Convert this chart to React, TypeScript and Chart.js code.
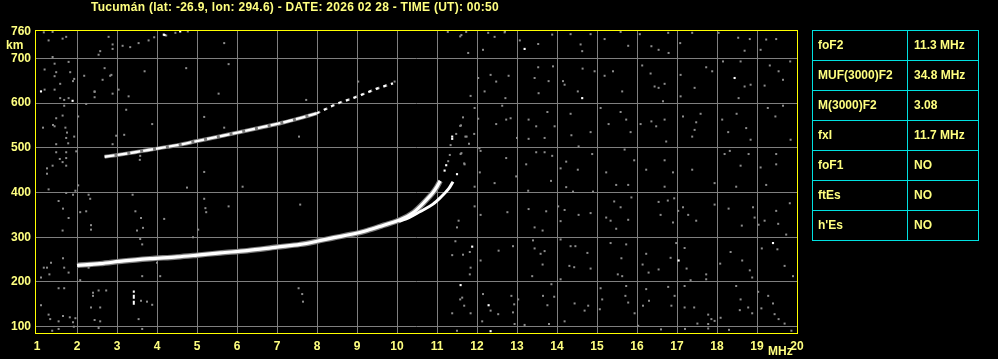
import React, { useEffect, useRef } from 'react';
import { Chart, registerables } from 'chart.js';

Chart.register(...registerables);

const titleText = 'Tucumán (lat: -26.9, lon: 294.6) - DATE: 2026 02 28 - TIME (UT): 00:50';
const xTicks = [1, 2, 3, 4, 5, 6, 7, 8, 9, 10, 11, 12, 13, 14, 15, 16, 17, 18, 19, 20];
const yTicks = [100, 200, 300, 400, 500, 600, 700, 760];
const xUnit = 'MHz';
const yUnit = 'km';

const tableNames = ['foF2', 'MUF(3000)F2', 'M(3000)F2', 'fxI', 'foF1', 'ftEs', "h'Es"];
const tableValues = ['11.3 MHz', '34.8 MHz', '3.08', '11.7 MHz', 'NO', 'NO', 'NO'];

// F2 ordinary trace (MHz, km)
const oTraceF = [2.0, 2.58, 3.17, 3.83, 4.5, 5.0, 5.58, 6.25, 7.0, 7.58, 8.0, 8.42, 8.83, 9.25, 9.67, 10.08, 10.42, 10.7, 10.9, 11.0, 11.08];
const oTraceH = [237, 241, 247, 252, 256, 260, 265, 270, 278, 284, 291, 299, 306, 315, 327, 339, 356, 380, 400, 413, 426];

// F2 extraordinary trace
const xTraceF = [10.05, 10.3, 10.57, 10.9, 11.1, 11.23, 11.32, 11.4];
const xTraceH = [336, 344, 357, 374, 390, 402, 412, 424];

// second-hop trace (strong part, then faint part)
const hopTraceF = [2.69, 3.02, 3.31, 3.57, 3.92, 4.25, 4.58, 5.0, 5.38, 5.75, 6.17, 6.63, 7.13, 7.6, 7.99];
const hopTraceH = [480, 484, 488, 492, 497, 502, 507, 515, 522, 529, 537, 546, 556, 567, 577];
const hopFaintF = [7.99, 8.23, 8.49, 8.9, 9.24, 9.49, 9.9];
const hopFaintH = [577, 587, 598, 611, 623, 632, 644];

// scattered echoes (MHz, km)
const speckRightTop = [
  [11.58, 749], [11.78, 712], [12.28, 757], [12.44, 748], [12.69, 758], [12.15, 719], [13.07, 740], [13.53, 732],
  [13.88, 753], [14.34, 754], [14.59, 731], [14.63, 716], [14.84, 754], [15.19, 743], [15.59, 759], [15.78, 728],
  [16.07, 754], [16.36, 727], [16.54, 719], [16.79, 712], [16.78, 757], [17.08, 734], [17.38, 757], [18.04, 757],
  [18.53, 746], [18.69, 717], [18.82, 743], [19.09, 719], [19.23, 742], [19.48, 743], [11.27, 759], [11.61, 752],
  [11.73, 759], [12.7, 760],
];
const speckRightUpper = [
  [12.34, 663], [12.48, 648], [12.79, 661], [12.03, 656], [12.19, 626], [11.84, 616], [12.71, 611], [13.53, 680],
  [13.44, 656], [13.54, 622], [13.9, 682], [13.79, 649], [14.15, 649], [14.19, 641], [14.64, 677], [14.52, 626],
  [14.94, 671], [15.19, 661], [15.4, 671], [15.63, 626], [16.13, 684], [16.34, 666], [16.44, 637], [16.69, 643],
  [16.54, 634], [16.65, 604], [17.09, 663], [17.09, 615], [17.44, 634], [17.73, 680], [17.88, 671], [18.15, 693],
  [18.59, 693], [18.69, 637], [18.54, 611], [18.84, 641], [19.19, 639], [19.32, 684], [19.54, 671], [19.65, 652],
  [19.83, 693],
];
const speckRightMid = [
  [11.65, 568], [11.6, 550], [11.74, 525], [11.94, 589], [12.03, 565], [12.48, 553], [12.63, 594], [12.73, 563],
  [12.84, 566], [13.0, 522], [13.29, 563], [13.29, 520], [13.48, 548], [13.76, 580], [13.69, 522], [13.94, 548],
  [14.34, 576], [14.36, 528], [14.54, 503], [14.84, 535], [15.09, 589], [15.29, 553], [15.59, 580], [15.73, 563],
  [15.84, 535], [16.09, 553], [16.36, 559], [16.48, 548], [16.69, 563], [16.73, 514], [17.15, 570], [17.44, 540],
  [17.48, 557], [17.59, 576], [17.38, 525], [18.13, 563], [18.28, 535], [18.49, 576], [18.73, 544], [18.84, 518],
  [19.27, 589], [19.46, 570], [19.65, 594], [19.84, 518],
];
const speckRightLowMid = [
  [11.59, 486], [11.69, 463], [12.09, 493], [12.07, 445], [12.73, 477], [12.98, 436], [13.23, 463], [13.48, 490],
  [13.69, 490], [13.88, 482], [14.23, 469], [14.09, 454], [14.52, 451], [14.88, 486], [15.23, 445], [15.69, 496],
  [15.93, 472], [16.23, 451], [16.69, 472], [16.9, 445], [17.38, 451], [18.19, 486], [18.32, 493], [18.59, 460],
  [18.79, 486], [19.09, 456], [19.48, 486], [19.48, 463],
  [11.94, 413], [12.44, 421], [13.28, 404], [13.85, 426], [14.23, 412], [14.4, 402], [14.9, 402], [15.48, 417],
  [15.78, 417], [16.69, 413], [17.94, 421], [18.48, 413], [19.23, 417],
  [11.54, 337], [11.94, 369], [12.09, 350], [12.76, 356], [13.29, 363], [13.73, 358], [13.44, 322], [13.64, 315],
  [14.03, 369], [14.19, 361], [14.09, 336], [14.54, 350], [14.84, 354], [15.23, 344], [15.43, 380], [15.59, 367],
  [15.34, 337], [15.48, 319], [15.78, 339], [15.86, 389], [16.54, 379], [16.59, 350], [16.77, 382], [16.93, 387],
  [16.9, 333], [17.03, 359], [17.15, 367], [17.28, 350], [17.48, 337], [17.94, 373], [18.29, 364], [18.62, 326],
  [18.9, 367], [18.94, 344], [19.04, 328], [19.19, 337], [19.48, 359], [19.53, 330], [19.82, 376], [19.73, 306],
];
const speckRightLow = [
  [11.82, 267], [11.65, 261], [12.09, 248], [11.84, 232], [11.82, 217], [12.54, 270], [12.9, 280], [13.4, 293],
  [13.44, 275], [13.59, 263], [13.69, 269], [13.64, 239], [13.38, 213], [14.09, 295], [14.34, 280], [14.46, 280],
  [14.31, 236], [14.43, 233], [14.84, 230], [14.76, 265], [14.09, 206], [15.34, 287], [15.61, 253], [15.73, 284],
  [15.52, 217], [15.63, 213], [16.23, 263], [16.14, 239], [16.29, 221], [16.54, 228], [16.84, 254], [16.98, 287],
  [17.19, 276], [17.24, 230], [17.34, 204], [17.73, 217], [17.73, 206], [18.08, 241], [18.34, 267], [18.63, 248],
  [18.82, 226], [18.88, 210], [19.12, 275], [19.51, 273], [19.69, 236], [19.9, 213],
  [11.63, 165], [11.68, 147], [11.84, 130], [12.15, 173], [12.34, 136], [12.53, 128], [12.13, 112], [12.86, 169],
  [12.93, 150], [13.03, 161], [12.9, 132], [12.94, 106], [13.19, 104], [13.65, 169], [13.76, 148], [13.8, 106],
  [13.93, 167], [13.86, 195], [14.19, 112], [14.44, 152], [14.69, 136], [14.78, 147], [15.07, 139], [15.09, 186],
  [15.13, 161], [15.71, 169], [15.78, 154], [15.94, 130], [15.73, 191], [16.03, 102], [16.15, 147], [16.23, 184],
  [16.3, 158], [16.78, 189], [16.94, 169], [16.86, 147], [17.19, 191], [17.19, 143], [17.43, 143], [17.51, 107],
  [17.78, 127], [17.78, 106], [17.78, 96], [17.86, 117], [17.94, 113], [18.09, 120], [18.48, 191], [18.59, 161],
  [18.57, 137], [18.78, 143], [18.88, 130], [19.03, 178], [19.11, 141], [19.28, 169], [19.4, 152], [19.44, 128],
  [19.54, 117], [19.69, 107], [19.86, 91], [17.2, 95], [18.3, 93], [16.6, 94],
];
const speckLeftUpper = [
  [1.17, 758], [1.39, 759], [1.29, 740], [1.64, 744], [1.73, 748], [2.58, 716], [2.54, 708], [2.79, 748],
  [2.89, 731], [2.89, 721], [3.14, 728], [3.33, 725], [3.54, 734], [3.79, 740], [3.93, 747], [4.23, 751],
  [4.46, 757], [4.77, 760], [5.68, 734], [1.39, 703], [1.44, 688], [1.79, 692], [1.19, 675], [1.48, 669],
  [1.44, 660], [1.83, 669], [1.93, 654], [1.9, 649], [1.58, 643], [2.69, 678], [2.64, 652], [2.83, 661],
  [2.18, 661], [1.19, 630], [1.44, 630], [1.58, 611], [1.68, 607], [1.79, 611], [1.68, 594], [2.44, 626],
  [2.44, 613], [2.89, 621], [3.04, 630], [3.29, 615], [3.69, 671], [4.73, 678], [5.79, 687], [5.54, 621],
  [2.23, 598], [1.48, 566], [1.64, 572], [1.15, 545], [1.4, 551], [1.44, 548], [1.71, 545], [1.75, 534],
  [1.73, 522], [1.93, 525], [1.78, 510], [1.48, 508], [2.03, 570], [3.23, 585], [3.88, 553], [3.18, 529],
  [2.98, 527], [2.89, 508], [5.18, 569], [5.68, 545], [1.48, 490], [1.73, 490], [1.57, 475], [1.73, 477],
  [1.64, 468], [1.73, 460], [1.25, 454], [1.39, 460], [1.25, 442], [1.98, 492], [3.57, 473], [3.58, 482],
  [5.18, 446], [7.73, 607], [7.55, 525], [9.03, 648], [9.94, 648], [2.44, 625], [2.86, 663],
];
const speckLeftLower = [
  [1.29, 407], [1.54, 381], [1.65, 364], [1.79, 343], [1.64, 315], [1.73, 399], [1.9, 395], [2.03, 416],
  [2.29, 395], [2.33, 386], [2.08, 356], [2.23, 358], [2.35, 327], [2.35, 317], [1.96, 404], [3.39, 395],
  [3.46, 358], [3.6, 343], [3.5, 315], [3.65, 321], [4.18, 341], [4.75, 411], [5.18, 386], [5.21, 365],
  [5.23, 356], [5.03, 317], [5.79, 369], [6.14, 413], [7.58, 373], [4.9, 300], [1.17, 232], [1.25, 232],
  [1.35, 243], [1.65, 253], [1.68, 232], [1.79, 221], [1.1, 210], [1.31, 217], [2.29, 232], [2.08, 204],
  [4.08, 213], [3.63, 213], [4.0, 243], [3.58, 296], [3.63, 284], [1.1, 148], [1.29, 127], [1.33, 117],
  [1.54, 186], [1.68, 186], [1.54, 112], [1.65, 124], [1.82, 121], [1.9, 110], [1.96, 119], [1.92, 100],
  [1.38, 91], [1.54, 95], [2.4, 176], [2.4, 169], [2.54, 181], [2.73, 181], [2.35, 143], [2.58, 143],
  [2.44, 115], [2.58, 112], [2.54, 97], [3.54, 117], [3.6, 158], [3.75, 156], [3.88, 149], [3.63, 95],
  [7.54, 186], [7.63, 173], [7.65, 156], [11.38, 130], [11.5, 322], [11.46, 291], [11.38, 260], [11.58, 161],
  [11.5, 91],
];
const speckCusp = [
  [11.34, 506], [11.32, 484], [11.28, 470], [11.58, 549], [11.48, 531], [11.71, 525], [11.61, 488], [11.68, 465],
  [11.8, 509], [11.93, 531], [12.06, 499],
];
const speckWhite = [
  [13.19, 721], [14.63, 611], [18.44, 656], [11.88, 279], [17.04, 248], [19.4, 287], [11.59, 193], [12.29, 148],
  [12.34, 90], [4.17, 753], [4.58, 760], [1.1, 626], [1.89, 605], [11.38, 525], [11.38, 520], [11.23, 461],
  [11.19, 449], [11.5, 441], [4.19, 752],
];
// short vertical echo near 3.4 MHz
const spikeF = [3.42, 3.42];
const spikeH = [149, 181];

const YELLOW_TEXT = '#ffff80';
const CYAN = '#00e0e0';
const FONT = '"Liberation Sans", Arial, sans-serif';

const toPts = (f: number[], h: number[]) => f.map((v, i) => ({ x: v, y: h[i] }));
const pairPts = (arr: number[][]) => arr.map(([x, y]) => ({ x, y }));

export default function App() {
  const ref = useRef<HTMLCanvasElement>(null);

  useEffect(() => {
    const canvas = ref.current;
    if (!canvas) return;

    const framePlugin = {
      id: 'frame',
      afterDatasetsDraw(chart: any) {
        const { ctx, chartArea: a } = chart;
        ctx.save();
        ctx.strokeStyle = '#ffff00';
        ctx.lineWidth = 1;
        ctx.strokeRect(a.left + 0.5, a.top + 0.5, a.right - a.left - 1, a.bottom - a.top - 1);
        ctx.restore();
      },
    };

    const greySpecks = [
      ...speckRightTop, ...speckRightUpper, ...speckRightMid, ...speckRightLowMid,
      ...speckRightLow, ...speckLeftUpper, ...speckLeftLower, ...speckCusp,
    ];

    const chart = new Chart(canvas, {
      type: 'scatter',
      data: {
        datasets: [
          {
            data: toPts(oTraceF, oTraceH), showLine: true, pointRadius: 0,
            borderColor: '#ffffff', borderWidth: 3.2, cubicInterpolationMode: 'monotone', order: 0,
          },
          {
            data: toPts(xTraceF, xTraceH), showLine: true, pointRadius: 0,
            borderColor: '#ffffff', borderWidth: 3, cubicInterpolationMode: 'monotone', order: 0,
          },
          {
            data: toPts(hopTraceF, hopTraceH), showLine: true, pointRadius: 0,
            borderColor: '#ffffff', borderWidth: 2.4, borderDash: [10, 3], cubicInterpolationMode: 'monotone', order: 0,
          },
          {
            data: toPts(hopFaintF, hopFaintH), showLine: true, pointRadius: 0,
            borderColor: '#ffffff', borderWidth: 2, borderDash: [3, 5], cubicInterpolationMode: 'monotone', order: 0,
          },
          {
            data: toPts(spikeF, spikeH), showLine: true, pointRadius: 0,
            borderColor: '#ffffff', borderWidth: 2, borderDash: [4, 2], order: 0,
          },
          {
            data: toPts(oTraceF, oTraceH), showLine: true, pointRadius: 0,
            borderColor: '#7c7c7c', borderWidth: 5.5, cubicInterpolationMode: 'monotone', order: 1,
          },
          {
            data: toPts(hopTraceF, hopTraceH), showLine: true, pointRadius: 0,
            borderColor: '#7c7c7c', borderWidth: 4, cubicInterpolationMode: 'monotone', order: 1,
          },
          {
            data: toPts(hopFaintF, hopFaintH), showLine: true, pointRadius: 0,
            borderColor: '#7c7c7c', borderWidth: 2.5, borderDash: [4, 4], cubicInterpolationMode: 'monotone', order: 1,
          },
          {
            data: pairPts(speckWhite), pointStyle: 'rect', pointRadius: 1.5,
            backgroundColor: '#ffffff', borderWidth: 0, order: 2,
          },
          {
            data: pairPts(greySpecks), pointStyle: 'rect', pointRadius: 1.42,
            backgroundColor: '#8c8c8c', borderWidth: 0, order: 3,
          },
        ] as any,
      },
      options: {
        animation: false,
        responsive: false,
        events: [],
        layout: { padding: { left: 0, right: 200, top: 30, bottom: 0 } },
        plugins: { legend: { display: false }, tooltip: { enabled: false }, title: { display: false } },
        scales: {
          x: {
            type: 'linear',
            min: 0.95,
            max: 20.025,
            afterBuildTicks: (s: any) => { s.ticks = xTicks.map((v) => ({ value: v })); },
            afterFit: (s: any) => { s.height = 25; },
            grid: {
              drawTicks: false,
              color: (c: any) => (c.tick && (c.tick.value === 1 || c.tick.value === 20) ? 'rgba(0,0,0,0)' : '#7f7f7f'),
              lineWidth: 1,
            },
            border: { display: false },
            ticks: {
              autoSkip: false,
              maxRotation: 0,
              color: YELLOW_TEXT,
              font: { family: FONT, weight: 'bold', size: 12 },
              padding: 5,
              callback: (v: any) => String(v),
            },
          },
          y: {
            type: 'linear',
            min: 83.7,
            max: 763.3,
            afterBuildTicks: (s: any) => { s.ticks = yTicks.map((v) => ({ value: v })); },
            afterFit: (s: any) => { s.width = 35; },
            grid: {
              drawTicks: false,
              color: (c: any) => (c.tick && c.tick.value === 760 ? 'rgba(0,0,0,0)' : '#7f7f7f'),
              lineWidth: 1,
            },
            border: { display: false },
            ticks: {
              autoSkip: false,
              color: YELLOW_TEXT,
              font: { family: FONT, weight: 'bold', size: 12 },
              padding: 4,
              callback: (v: any) => String(v),
            },
          },
        },
      } as any,
      plugins: [framePlugin],
    });

    return () => chart.destroy();
  }, []);

  const textStyle: React.CSSProperties = {
    position: 'absolute',
    color: YELLOW_TEXT,
    fontFamily: FONT,
    fontWeight: 'bold',
    fontSize: 12,
    whiteSpace: 'nowrap',
    lineHeight: '14px',
  };

  const cellStyle: React.CSSProperties = {
    height: 30, lineHeight: '29px', paddingLeft: 5, boxSizing: 'border-box',
    borderRight: `1px solid ${CYAN}`, borderBottom: `1px solid ${CYAN}`,
    color: YELLOW_TEXT, fontFamily: FONT, fontWeight: 'bold', fontSize: 12, whiteSpace: 'nowrap',
  };

  return (
    <div style={{ position: 'fixed', left: 0, top: 0, width: 998, height: 359, background: '#000', overflow: 'hidden' }}>
      <canvas ref={ref} width={998} height={359} style={{ position: 'absolute', left: 0, top: 0, width: 998, height: 359 }} />
      <div style={{ ...textStyle, left: 91, top: 0, letterSpacing: '0.27px' }}>{titleText}</div>
      <div style={{ ...textStyle, left: 6, top: 38 }}>{yUnit}</div>
      <div style={{ ...textStyle, left: 768, top: 344 }}>{xUnit}</div>
      <div
        style={{
          position: 'absolute', left: 812, top: 30, width: 166, display: 'grid',
          gridTemplateColumns: '95px 71px', borderLeft: `1px solid ${CYAN}`, borderTop: `1px solid ${CYAN}`,
        }}
      >
        {tableNames.map((n, i) => (
          <React.Fragment key={n}>
            <div style={{ ...cellStyle, width: 95 }}>{n}</div>
            <div style={{ ...cellStyle, width: 71, paddingLeft: 6 }}>{tableValues[i]}</div>
          </React.Fragment>
        ))}
      </div>
    </div>
  );
}
